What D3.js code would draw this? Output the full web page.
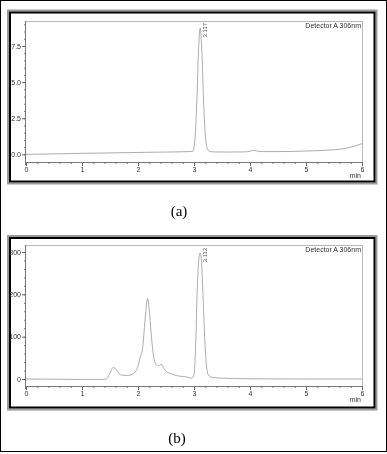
<!DOCTYPE html>
<html>
<head>
<meta charset="utf-8">
<script src="https://cdn.jsdelivr.net/npm/d3@7"></script>
<style>
  body { margin: 0; background: #fff; }
  svg { will-change: transform; }
  svg text { font-family: "Liberation Sans", Arial, sans-serif; }
</style>
</head>
<body>
<svg width="387" height="454"></svg>
<script>
// ---- data (time in min, signal) ----
const timeA = [0, 0.5, 1.0, 1.5, 2.0, 2.5, 2.9, 2.98, 3.02, 3.05, 3.08, 3.11, 3.14, 3.17, 3.20, 3.23, 3.27, 3.35,
               3.6, 3.9, 4.0, 4.05, 4.12, 4.2, 4.5, 5.0, 5.4, 5.6, 5.8, 6.0];
const signalA = [0, 0.03, 0.07, 0.1, 0.13, 0.16, 0.19, 0.21, 1.2, 3.6, 7.1, 8.75, 7.2, 3.8, 1.4, 0.5, 0.22, 0.17,
                 0.16, 0.17, 0.21, 0.28, 0.24, 0.19, 0.19, 0.23, 0.29, 0.35, 0.5, 0.74];

const timeB = [0, 0.5, 1.0, 1.4, 1.45, 1.5, 1.56, 1.61, 1.66, 1.72, 1.8, 1.88, 1.95, 2.0, 2.04, 2.08, 2.12, 2.17,
               2.21, 2.24, 2.27, 2.33, 2.37, 2.41, 2.45, 2.51, 2.6, 2.69, 2.8, 2.87, 2.96, 3.0, 3.03, 3.06, 3.09,
               3.11, 3.13, 3.16, 3.19, 3.22, 3.26, 3.32, 3.5, 4.0, 5.0, 6.0];
const signalB = [0, -0.5, -1, -1, 2, 14, 28, 22, 13, 9, 8.5, 10, 17, 30, 52, 70, 130, 190,
                 150, 100, 62, 33, 31, 35, 28, 17, 12, 8, 6, 5, 2, 10, 80, 220, 288,
                 298, 285, 200, 100, 35, 9, 4, 2, 0.5, 0, 0];

const xTicks = [0, 1, 2, 3, 4, 5, 6];
const yTicksA = [0, 2.5, 5.0, 7.5];
const yTicksB = [0, 100, 200, 300];
const peakA = { time: 3.11, value: 8.75, label: "3.117" };
const peakB = { time: 3.11, value: 298, label: "3.112" };
const detector = "Detector A 306nm";
const captions = ["(a)", "(b)"];

const svg = d3.select("svg");
const font = "'Liberation Sans', Arial, sans-serif";

// outer page border
svg.append("rect")
   .attr("x", 0.5).attr("y", 0.5)
   .attr("width", 386).attr("height", 451)
   .attr("fill", "none").attr("stroke", "#000").attr("stroke-width", 1);

const x = d3.scaleLinear().domain([0, 6]).range([26, 362]);

function drawPanel(p) {
  const g = svg.append("g");

  // framed box: grey shadow + black border
  g.append("rect")
   .attr("x", 8).attr("y", p.frameTop - 2)
   .attr("width", 368.5).attr("height", p.frameBottom - p.frameTop + 4)
   .attr("fill", "none").attr("stroke", "#9a9a9a").attr("stroke-width", 2);
  g.append("rect")
   .attr("x", 10).attr("y", p.frameTop)
   .attr("width", 364.5).attr("height", p.frameBottom - p.frameTop)
   .attr("fill", "none").attr("stroke", "#000").attr("stroke-width", 2);

  const y = p.y;
  const top = y.range()[1], bottom = y.range()[0];

  // plot border, top and right light
  g.append("line").attr("x1", x(0)).attr("x2", x(6)).attr("y1", top + 0.5).attr("y2", top + 0.5)
   .attr("stroke", "#b8b8b8").attr("stroke-width", 1);
  g.append("line").attr("x1", x(6) + 0.5).attr("x2", x(6) + 0.5).attr("y1", top).attr("y2", bottom)
   .attr("stroke", "#b8b8b8").attr("stroke-width", 1);

  // minor ticks
  g.append("g")
   .attr("transform", `translate(0,${bottom})`)
   .call(d3.axisBottom(x).tickValues(d3.range(0, 6.001, 0.2)).tickSize(2).tickFormat(""))
   .call(a => a.select(".domain").remove())
   .selectAll("line").attr("stroke", "#777");
  g.append("g")
   .attr("transform", `translate(${x(0)},0)`)
   .call(d3.axisLeft(y).tickValues(p.yMinor).tickSize(2).tickFormat(""))
   .call(a => a.select(".domain").remove())
   .selectAll("line").attr("stroke", "#777");

  // major ticks with labels
  const xa = g.append("g")
   .attr("transform", `translate(0,${bottom})`)
   .call(d3.axisBottom(x).tickValues(xTicks).tickSize(4).tickPadding(1).tickFormat(d3.format("d")));
  xa.select(".domain").remove();
  xa.attr("font-family", font).attr("font-size", 7);
  xa.selectAll("line").attr("stroke", "#666");
  xa.selectAll("text").attr("fill", "#333");

  const ya = g.append("g")
   .attr("transform", `translate(${x(0)},0)`)
   .call(d3.axisLeft(y).tickValues(p.yTicks).tickSize(4).tickPadding(1).tickFormat(p.fmt));
  ya.select(".domain").remove();
  ya.attr("font-family", font).attr("font-size", 7);
  ya.selectAll("line").attr("stroke", "#666");
  ya.selectAll("text").attr("fill", "#333");

  // axis lines
  g.append("line").attr("x1", x(0)).attr("x2", x(6)).attr("y1", bottom + 0.5).attr("y2", bottom + 0.5)
   .attr("stroke", "#777").attr("stroke-width", 1);
  g.append("line").attr("x1", x(0) - 0.5).attr("x2", x(0) - 0.5).attr("y1", top).attr("y2", bottom + 3)
   .attr("stroke", "#777").attr("stroke-width", 1);

  // trace
  const line = d3.line()
    .x(d => x(d[0]))
    .y(d => y(d[1]))
    .curve(d3.curveMonotoneX);
  g.append("path")
   .datum(d3.zip(p.time, p.signal))
   .attr("d", line)
   .attr("fill", "none")
   .attr("stroke", "#8a8a8a")
   .attr("stroke-width", 0.7);

  // peak label, rotated
  g.append("text")
   .attr("transform", `translate(${x(p.peak.time) + 6.5},${y(p.peak.value) + 9.5}) rotate(-90)`)
   .attr("font-size", 6)
   .attr("fill", "#555")
   .text(p.peak.label);

  // detector label
  g.append("text")
   .attr("x", x(6) - 1).attr("y", top + 6.5)
   .attr("text-anchor", "end")
   .attr("font-size", 7)
   .attr("fill", "#333")
   .text(detector);

  // unit label
  g.append("text")
   .attr("x", x(6) - 1).attr("y", bottom + 16)
   .attr("text-anchor", "end")
   .attr("font-size", 7)
   .attr("fill", "#333")
   .text("min");

  // caption
  svg.append("text")
   .attr("x", p.capX).attr("y", p.capY)
   .attr("text-anchor", "middle")
   .style("font-family", "'Liberation Serif', 'Times New Roman', serif")
   .attr("font-size", 15)
   .attr("fill", "#000")
   .text(p.caption);
}

drawPanel({
  frameTop: 12.5, frameBottom: 181.5,
  y: d3.scaleLinear().domain([-0.53, 9.23]).range([162, 21]),
  yTicks: yTicksA, yMinor: d3.range(0, 9.01, 0.5), fmt: d3.format(".1f"),
  time: timeA, signal: signalA, peak: peakA,
  caption: captions[0], capX: 179, capY: 216
});

drawPanel({
  frameTop: 238, frameBottom: 407.5,
  y: d3.scaleLinear().domain([-16.5, 316.5]).range([386, 245]),
  yTicks: yTicksB, yMinor: d3.range(0, 316, 20), fmt: d3.format("d"),
  time: timeB, signal: signalB, peak: peakB,
  caption: captions[1], capX: 177, capY: 443
});
</script>
</body>
</html>
